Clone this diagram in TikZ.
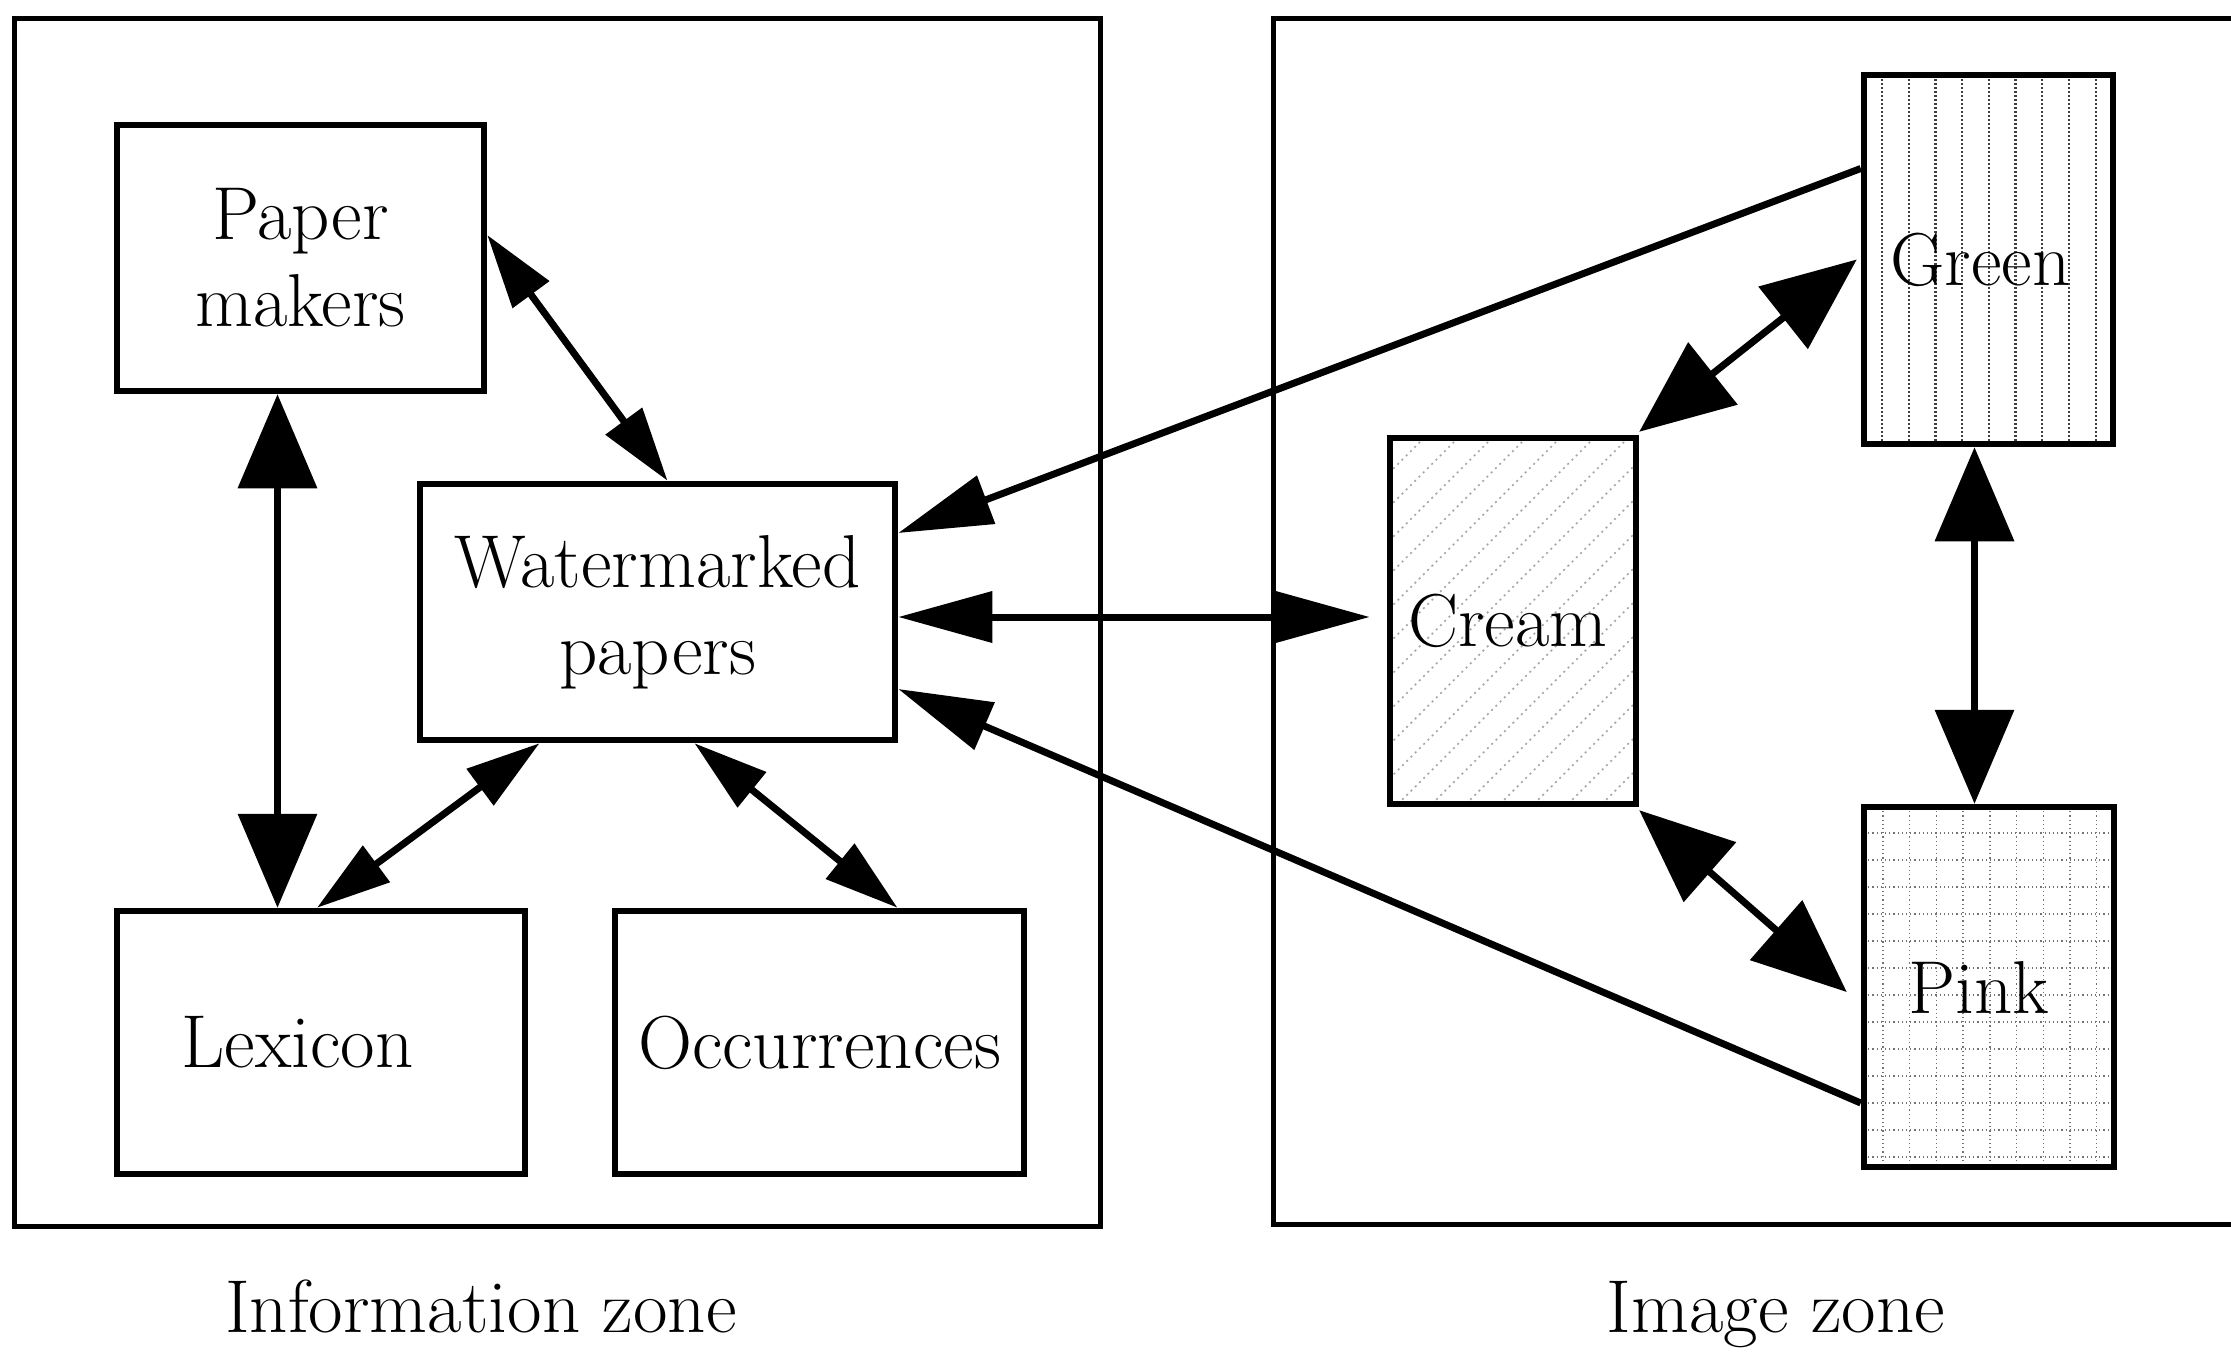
\documentclass[tikz,border=0pt]{standalone}
\usetikzlibrary{arrows.meta,backgrounds,calc}
\tikzset{
  sh/.tip={Triangle[length=74pt,width=44pt]},
  mh/.tip={Triangle[length=94pt,width=50pt]},
  bh/.tip={Triangle[length=94pt,width=78pt]},
  zone/.style={draw, line width=5pt, inner sep=0pt},
  box/.style={draw, line width=6.5pt, align=center, inner sep=0pt,
    font=\fontsize{75}{87}\selectfont},
  link/.style={line width=7pt},
  zonelabel/.style={anchor=base, inner sep=0pt, font=\fontsize{75}{87}\selectfont},
  creamdots/.style={black!35, line width=1.6pt, dash pattern=on 2pt off 4pt},
  greendots/.style={black!75, line width=2.2pt, dash pattern=on 1.6pt off 2.4pt},
  pinkdots/.style={black!55, line width=1.4pt, dash pattern=on 1.2pt off 3pt}
}
\begin{document}
\begin{tikzpicture}[x=1pt,y=-1pt]
\useasboundingbox (0,0) rectangle (2231,1360);

% zones
\node[zone, minimum width=1086pt, minimum height=1208pt] (infozone) at (557,622) {};
\node[zone, minimum width=990pt, minimum height=1206pt] (imgzone) at (1768,621) {};
\node[zonelabel] (infolabel) at (481,1332) {Information zone};
\node[zonelabel] (imglabel) at (1776,1332) {Image zone};

% boxes
\node[box, minimum width=367pt, minimum height=266pt] (pm) at (300.5,258) {Paper\\makers};
\node[box, minimum width=475pt, minimum height=256pt] (wm) at (657.5,612) {Watermarked\\papers};
\node[box, minimum width=408pt, minimum height=263pt] (lex) at (321,1042.5) {\hspace*{-47pt}Lexicon};
\node[box, minimum width=409pt, minimum height=263pt] (occ) at (819.5,1042.5) {Occurrences};
\node[box, minimum width=246pt, minimum height=366pt] (cream) at (1513,621) {\hspace*{-10pt}Cream};
\node[box, minimum width=249pt, minimum height=369pt] (green) at (1988.5,259.5) {\hspace*{-16pt}Green};
\node[box, minimum width=250pt, minimum height=360pt] (pink) at (1989,987) {\hspace*{-20pt}Pink};

% patterns
\begin{scope}[on background layer]
  \fill[white] (0,0) rectangle (2231,1360);
  \begin{scope}
    \clip (cream.south west) rectangle (cream.north east);
    \foreach \x in {1024,1058,...,1650}
      \draw[creamdots] (\x,804) -- ++(366,-366);
  \end{scope}
  \begin{scope}
    \clip (green.south west) rectangle (green.north east);
    \foreach \i in {0,...,8}
      \draw[greendots] ({1882+26.7*\i},75) -- ({1882+26.7*\i},444);
  \end{scope}
  \begin{scope}
    \clip (pink.south west) rectangle (pink.north east);
    \foreach \i in {0,...,8}
      \draw[pinkdots] ({1883+26.7*\i},807) -- ({1883+26.7*\i},1167);
    \foreach \j in {0,...,12}
      \draw[pinkdots] (1864,{833+27*\j}) -- (2114,{833+27*\j});
  \end{scope}
\end{scope}

% connectors, information zone
\draw[link, sh-sh] ([yshift=23pt]pm.east) -- ([xshift=10pt]wm.north);
\draw[link, bh-bh] ([xshift=-23pt]pm.south) -- ([xshift=-23pt]pm.south |- lex.north);
\draw[link, sh-sh] ([xshift=-118pt]wm.south) -- ([xshift=-4pt]lex.north);
\draw[link, sh-sh] ([xshift=37pt]wm.south) -- ([xshift=78pt]occ.north);

% connectors between zones
\draw[link, -mh] ([yshift=91pt]green.west) -- ([yshift=79pt]wm.east);
\draw[link, mh-mh] ([yshift=-5pt]wm.east) -- ([xshift=-17pt,yshift=4pt]cream.west);
\draw[link, -mh] ([yshift=-116pt]pink.west) -- ([yshift=-77pt]wm.east);

% connectors, image zone
\draw[link, bh-bh] ([yshift=3pt]cream.north east) -- ([xshift=-4pt]green.west);
\draw[link, bh-bh] ([yshift=-3pt]cream.south east) -- ([xshift=-14pt,yshift=-5pt]pink.west);
\draw[link, bh-bh] ([xshift=-14pt]green.south) -- ([xshift=-14pt]green.south |- pink.north);
\end{tikzpicture}
\end{document}
